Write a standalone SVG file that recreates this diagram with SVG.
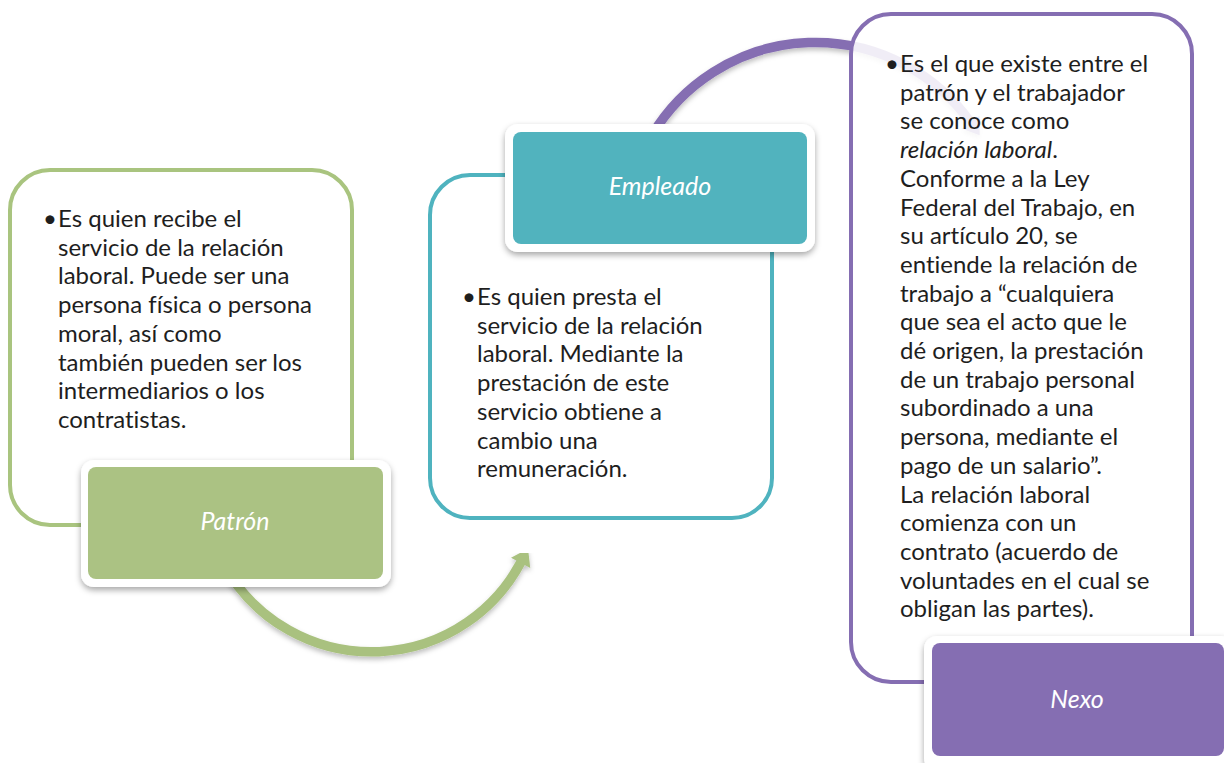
<svg xmlns="http://www.w3.org/2000/svg" width="1224" height="763" viewBox="0 0 1224 763">
<style>
.body{font-family:Lato,"Open Sans","Liberation Sans",sans-serif;font-size:24px;fill:#1e1e1e;font-variant-ligatures:none}
.lbl{font-family:Lato,"Open Sans","Liberation Sans",sans-serif;font-size:25px;font-style:italic;fill:#ffffff;text-anchor:middle}
.box{fill:#ffffff;fill-opacity:0.88;stroke-width:4}
.frame{fill:#ffffff;filter:url(#sh)}
.arc{fill:none;stroke-width:9.5;filter:url(#ash)}
</style>
<defs>
<filter id="sh" x="-10%" y="-10%" width="125%" height="130%">
<feDropShadow dx="0" dy="3" stdDeviation="3" flood-color="#000" flood-opacity="0.35"/>
</filter>
<filter id="ash" x="-10%" y="-10%" width="120%" height="130%">
<feDropShadow dx="0" dy="3" stdDeviation="2.5" flood-color="#000" flood-opacity="0.25"/>
</filter>
<marker id="ahG" markerUnits="userSpaceOnUse" markerWidth="24" markerHeight="24" refX="1" refY="11" orient="auto">
<path d="M0,0 L16,11 L0,22 Z" fill="#a9c17f"/>
</marker>
<marker id="ahP" markerUnits="userSpaceOnUse" markerWidth="24" markerHeight="24" refX="1" refY="11" orient="auto">
<path d="M0,0 L16,11 L0,22 Z" fill="#856eb2"/>
</marker>
</defs>
<rect width="1224" height="763" fill="#ffffff"/>

<g id="connectors">
<path class="arc" stroke="#a9c17f" d="M 230 575 A 169 169 0 0 0 521 562" marker-end="url(#ahG)"/>
<path class="arc" stroke="#856eb2" d="M 652 135 A 190.5 190.5 0 0 1 971 123" marker-end="url(#ahP)"/>
</g>

<g id="node-patron">
<rect class="box" x="10" y="170" width="342" height="355" rx="40" stroke="#a9c47f"/>
<text class="body" x="57" y="227" text-anchor="end">•</text>
<text class="body" x="58" y="227"><tspan x="58">Es quien recibe el</tspan><tspan x="58" dy="28.7">servicio de la relación</tspan><tspan x="58" dy="28.7">laboral. Puede ser una</tspan><tspan x="58" dy="28.7">persona física o persona</tspan><tspan x="58" dy="28.7">moral, así como</tspan><tspan x="58" dy="28.7">también pueden ser los</tspan><tspan x="58" dy="28.7">intermediarios o los</tspan><tspan x="58" dy="28.7">contratistas.</tspan></text>
<rect class="frame" x="81" y="460" width="310" height="127" rx="13"/>
<rect x="88" y="467" width="295" height="112" rx="8" fill="#abc283"/>
<text class="lbl" x="235" y="530">Patrón</text>
</g>

<g id="node-empleado">
<rect class="box" x="430" y="175" width="342" height="343" rx="40" stroke="#4fb3bf"/>
<text class="body" x="476" y="305" text-anchor="end">•</text>
<text class="body" x="477" y="305"><tspan x="477">Es quien presta el</tspan><tspan x="477" dy="28.7">servicio de la relación</tspan><tspan x="477" dy="28.7">laboral. Mediante la</tspan><tspan x="477" dy="28.7">prestación de este</tspan><tspan x="477" dy="28.7">servicio obtiene a</tspan><tspan x="477" dy="28.7">cambio una</tspan><tspan x="477" dy="28.7">remuneración.</tspan></text>
<rect class="frame" x="505" y="124" width="310" height="128" rx="13"/>
<rect x="513" y="132" width="294" height="112" rx="8" fill="#51b3be"/>
<text class="lbl" x="660" y="195">Empleado</text>
</g>

<g id="node-nexo">
<rect class="box" x="851" y="14" width="341" height="668" rx="40" stroke="#856eb2"/>
<text class="body" x="899" y="72" text-anchor="end">•</text>
<text class="body" x="900" y="72"><tspan x="900">Es el que existe entre el</tspan><tspan x="900" dy="28.7">patrón y el trabajador</tspan><tspan x="900" dy="28.7">se conoce como</tspan><tspan x="900" dy="28.7" font-style="italic">relación laboral</tspan><tspan>.</tspan><tspan x="900" dy="28.7">Conforme a la Ley</tspan><tspan x="900" dy="28.7">Federal del Trabajo, en</tspan><tspan x="900" dy="28.7">su artículo 20, se</tspan><tspan x="900" dy="28.7">entiende la relación de</tspan><tspan x="900" dy="28.7">trabajo a “cualquiera</tspan><tspan x="900" dy="28.7">que sea el acto que le</tspan><tspan x="900" dy="28.7">dé origen, la prestación</tspan><tspan x="900" dy="28.7">de un trabajo personal</tspan><tspan x="900" dy="28.7">subordinado a una</tspan><tspan x="900" dy="28.7">persona, mediante el</tspan><tspan x="900" dy="28.7">pago de un salario”.</tspan><tspan x="900" dy="28.7">La relación laboral</tspan><tspan x="900" dy="28.7">comienza con un</tspan><tspan x="900" dy="28.7">contrato (acuerdo de</tspan><tspan x="900" dy="28.7">voluntades en el cual se</tspan><tspan x="900" dy="28.7">obligan las partes).</tspan></text>
<rect class="frame" x="924" y="636" width="310" height="135" rx="13"/>
<rect x="932" y="643" width="292" height="113" rx="8" fill="#856eb2"/>
<text class="lbl" x="1077" y="708">Nexo</text>
</g>
</svg>
